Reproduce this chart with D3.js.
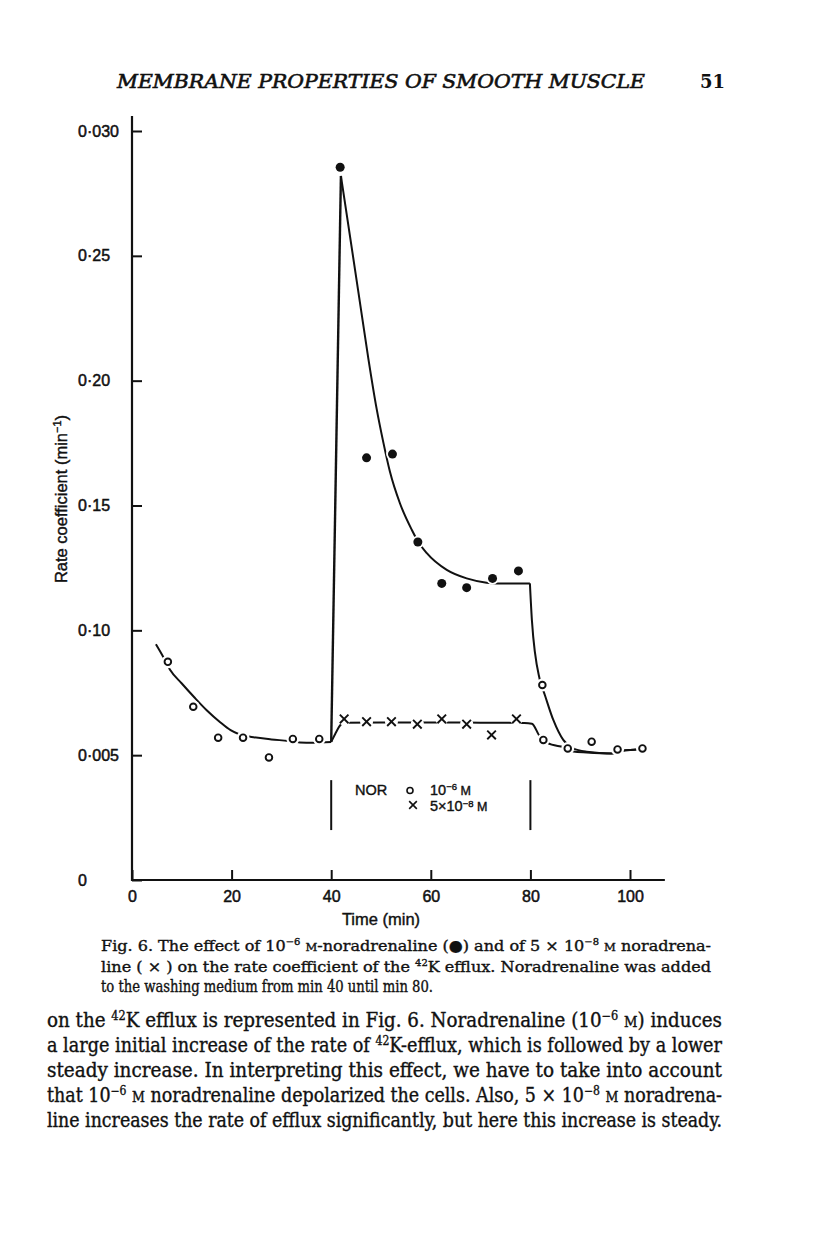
<!DOCTYPE html>
<html><head><meta charset="utf-8">
<script src="https://cdn.jsdelivr.net/npm/d3@7/dist/d3.min.js"></script>
<style>body{margin:0;background:#fff}svg{display:block}</style>
</head><body>
<svg id="c" width="816" height="1248"></svg>
<script>
// ---- axis ticks ----
const xTicks = [0, 20, 40, 60, 80, 100];
const xTickLabels = ["0", "20", "40", "60", "80", "100"];
const yTicks = [0, 0.05, 0.10, 0.15, 0.20, 0.25, 0.30];
const yTickLabels = ["0", "0·005", "0·10", "0·15", "0·20", "0·25", "0·030"];
const xAxisMax = 107, yAxisMax = 0.306;

// ---- measured points [time (min), rate coefficient] ----
const controlPre = [[7.2,0.0874],[12.3,0.0694],[17.3,0.0570],[22.3,0.0570],[27.5,0.0491],[32.3,0.0565],[37.6,0.0565]];
const controlPost = [[82.4,0.0781],[82.6,0.0561],[87.5,0.0527],[92.3,0.0554],[97.5,0.0523],[102.5,0.0527]];
const nor1e6 = [[41.8,0.2855],[47.1,0.1691],[52.3,0.1706],[57.4,0.1354],[62.2,0.1188],[67.2,0.1171],[72.4,0.1208],[77.6,0.1238]];
const nor5e8 = [[42.6,0.0645],[47.1,0.0634],[52.1,0.0634],[57.3,0.0624],[62.2,0.0645],[67.2,0.0624],[72.2,0.0581],[77.2,0.0645]];

// ---- hand-drawn fitted curves ----
const fitPre = [[4.8,0.0944],[6.2,0.0896],[7.6,0.0843],[10.0,0.0787],[12.5,0.0732],[15.0,0.0680],[17.7,0.0632],[19.8,0.0600],[21.5,0.0584],[24.0,0.0573],[28.0,0.0563],[31.4,0.0557],[33.7,0.0551],[36.3,0.0550],[40.0,0.0553]];
const fitHighRise = [[40.0,0.0553],[41.95,0.2820]];
const fitHighDecay = [[41.95,0.2820],[45.4,0.2363],[47.4,0.2096],[49.1,0.1890],[50.5,0.1750],[51.8,0.1635],[53.8,0.1509],[56.2,0.1402],[57.4,0.1357],[59.2,0.1309],[63.2,0.1242],[67.2,0.1208],[71.2,0.1191],[73.2,0.1188],[79.9,0.1188]];
const fitHighFall = [[79.9,0.1188],[80.3,0.1041],[81.9,0.0801],[82.9,0.0741],[84.6,0.0641],[86.6,0.0561],[88.6,0.0527],[91.3,0.0514],[96.3,0.0507],[98.5,0.0518],[101.3,0.0523],[102.5,0.0527]];
const fitLow = [[40.0,0.0553],[40.8,0.0585],[41.9,0.0622],[42.6,0.0630],[50,0.0631],[60,0.0631],[70,0.0630],[78.8,0.0629],[80.3,0.0626],[81.9,0.0575],[82.6,0.0561],[83.4,0.0549],[86.6,0.0532],[87.5,0.0527],[88.6,0.0515],[91.3,0.0511],[96.3,0.0507],[98.5,0.0518],[101.3,0.0523],[102.5,0.0527]];

// ---- texts ----
const headerText = "MEMBRANE PROPERTIES OF SMOOTH MUSCLE";
const pageNumber = "51";
const captionLines = [
  ["Fig. 6. The effect of 10", {s:"−6"}, " ", {m:"M"}, "-noradrenaline (●) and of 5 × 10", {s:"−8"}, " ", {m:"M"}, " noradrena-"],
  ["line ( × ) on the rate coefficient of the ", {s:"42"}, "K efflux. Noradrenaline was added"],
  ["to the washing medium from min 40 until min 80."]
];
const bodyLines = [
  ["on the ", {s:"42"}, "K efflux is represented in Fig. 6. Noradrenaline (10", {s:"−6"}, " ", {m:"M"}, ") induces"],
  ["a large initial increase of the rate of ", {s:"42"}, "K-efflux, which is followed by a lower"],
  ["steady increase. In interpreting this effect, we have to take into account"],
  ["that 10", {s:"−6"}, " ", {m:"M"}, " noradrenaline depolarized the cells. Also, 5 × 10", {s:"−8"}, " ", {m:"M"}, " noradrena-"],
  ["line increases the rate of efflux significantly, but here this increase is steady."]
];

const INK = "#111";
const svg = d3.select("#c");
const x = d3.scaleLinear().domain([0, 100]).range([132, 630]);
const y = d3.scaleLinear().domain([0, 0.30]).range([880, 131]);

// header
svg.append("text").attr("x", 117).attr("y", 88)
  .attr("font-family", "DejaVu Serif").attr("font-style", "italic").attr("font-size", 19)
  .attr("stroke", INK).attr("stroke-width", 0.6)
  .attr("textLength", 528).attr("lengthAdjust", "spacingAndGlyphs")
  .attr("fill", INK).text(headerText);
svg.append("text").attr("x", 700).attr("y", 88)
  .attr("font-family", "DejaVu Serif").attr("font-weight", "bold").attr("font-size", 18)
  .attr("fill", INK).text(pageNumber);

// axes
const axisFont = "Liberation Sans, Arial, sans-serif";
const gy = svg.append("g").attr("transform", `translate(${x(0)},0)`)
  .call(d3.axisLeft(y).tickValues(yTicks).tickFormat((d, i) => yTickLabels[i]).tickSize(-10).tickPadding(0));
gy.select(".domain").remove();
gy.selectAll(".tick line").attr("stroke", INK).attr("stroke-width", 2);
gy.selectAll(".tick text").attr("text-anchor", "start").attr("x", 78 - x(0))
  .attr("font-family", axisFont).attr("font-size", 16).attr("fill", INK)
  .attr("stroke", INK).attr("stroke-width", 0.5);

const gx = svg.append("g").attr("transform", `translate(0,${y(0)})`)
  .call(d3.axisBottom(x).tickValues(xTicks).tickFormat((d, i) => xTickLabels[i]).tickSize(-10).tickPadding(11));
gx.select(".domain").remove();
gx.selectAll(".tick line").attr("stroke", INK).attr("stroke-width", 2);
gx.selectAll(".tick text").attr("font-family", axisFont).attr("font-size", 16).attr("fill", INK)
  .attr("stroke", INK).attr("stroke-width", 0.5);

svg.append("line").attr("x1", x(0)).attr("x2", x(xAxisMax)).attr("y1", y(0)).attr("y2", y(0))
  .attr("stroke", INK).attr("stroke-width", 2.2);
svg.append("line").attr("x1", x(0)).attr("x2", x(0)).attr("y1", y(0) + 1).attr("y2", y(yAxisMax))
  .attr("stroke", INK).attr("stroke-width", 2.2);

// axis titles
const yt = svg.append("text").attr("transform", "translate(67,499) rotate(-90)")
  .attr("text-anchor", "middle").attr("font-family", axisFont).attr("font-size", 16.5).attr("fill", INK)
  .attr("stroke", INK).attr("stroke-width", 0.4);
yt.append("tspan").text("Rate coefficient (min");
yt.append("tspan").attr("dy", -6).attr("font-size", 11).text("−1");
yt.append("tspan").attr("dy", 6).text(")");
svg.append("text").attr("x", 381).attr("y", 925).attr("text-anchor", "middle")
  .attr("font-family", axisFont).attr("font-size", 16.5).attr("fill", INK)
  .attr("stroke", INK).attr("stroke-width", 0.4).text("Time (min)");

// fitted curves
const lineMono = d3.line().x(d => x(d[0])).y(d => y(d[1])).curve(d3.curveMonotoneX);
const lineLin = d3.line().x(d => x(d[0])).y(d => y(d[1]));
const curves = svg.append("g").attr("fill", "none").attr("stroke", INK).attr("stroke-width", 2).attr("stroke-linejoin", "round");
curves.append("path").attr("d", lineMono(fitPre));
curves.append("path").attr("d", lineLin(fitHighRise)).attr("stroke-width", 2.4);
curves.append("path").attr("d", lineMono(fitHighDecay));
curves.append("path").attr("d", lineMono(fitHighFall));
curves.append("path").attr("d", lineMono(fitLow));

// white halos (gaps in the lines around markers)
const halos = svg.append("g").attr("fill", "#fff");
[...controlPre, ...controlPost, ...nor5e8].forEach(d =>
  halos.append("circle").attr("cx", x(d[0])).attr("cy", y(d[1])).attr("r", 6.5));
nor1e6.forEach(d => halos.append("circle").attr("cx", x(d[0])).attr("cy", y(d[1])).attr("r", 6.3));

// markers
const mk = svg.append("g");
[...controlPre, ...controlPost].forEach(d =>
  mk.append("circle").attr("cx", x(d[0])).attr("cy", y(d[1])).attr("r", 3.3)
    .attr("fill", "#fff").attr("stroke", INK).attr("stroke-width", 1.9));
nor1e6.forEach(d =>
  mk.append("circle").attr("cx", x(d[0])).attr("cy", y(d[1])).attr("r", 4.5).attr("fill", INK));
const crossPath = d3.symbol().type(d3.symbolTimes).size(50);
nor5e8.forEach(d =>
  mk.append("path").attr("d", crossPath()).attr("transform", `translate(${x(d[0])},${y(d[1])})`)
    .attr("fill", "none").attr("stroke", INK).attr("stroke-width", 1.9));

// legend / NOR bracket
svg.append("line").attr("x1", x(40)).attr("x2", x(40)).attr("y1", y(0.040)).attr("y2", y(0.020))
  .attr("stroke", INK).attr("stroke-width", 2);
svg.append("line").attr("x1", x(80)).attr("x2", x(80)).attr("y1", y(0.040)).attr("y2", y(0.020))
  .attr("stroke", INK).attr("stroke-width", 2);
const lg = svg.append("g").attr("font-family", axisFont).attr("font-size", 14.5).attr("fill", INK)
  .attr("stroke", INK).attr("stroke-width", 0.4);
lg.append("text").attr("x", 355).attr("y", 795).text("NOR");
lg.append("circle").attr("cx", 410).attr("cy", 790.5).attr("r", 3).attr("fill", "none").attr("stroke", INK).attr("stroke-width", 1.6);
lg.append("path").attr("d", d3.symbol().type(d3.symbolTimes).size(40)()).attr("transform", "translate(413,805)")
  .attr("fill", "none").attr("stroke", INK).attr("stroke-width", 1.6);
const l1 = lg.append("text").attr("x", 430).attr("y", 795);
l1.append("tspan").text("10");
l1.append("tspan").attr("dy", -5).attr("font-size", 9.5).text("−6");
l1.append("tspan").attr("dy", 5).attr("font-size", 12.5).text(" M");
const l2 = lg.append("text").attr("x", 430).attr("y", 811);
l2.append("tspan").text("5×10");
l2.append("tspan").attr("dy", -4).attr("font-size", 9.5).text("−8");
l2.append("tspan").attr("dy", 4).attr("font-size", 12.5).text(" M");

// rich text helper
function richText(parent, xPos, yPos, parts, size, width) {
  const t = parent.append("text").attr("x", xPos).attr("y", yPos)
    .attr("font-family", "DejaVu Serif").attr("font-stretch", "condensed")
    .attr("font-size", size).attr("fill", INK).attr("stroke", INK).attr("stroke-width", 0.35);
  let shift = 0;
  parts.forEach(p => {
    const ts = t.append("tspan");
    if (typeof p === "string") {
      ts.text(p);
      if (shift) { ts.attr("dy", shift); shift = 0; }
    } else if (p.s) {
      const up = Math.round(size * 0.38);
      ts.attr("dy", -up + shift).attr("font-size", size * 0.62).text(p.s);
      shift = up;
    } else if (p.m) {
      ts.attr("font-size", size * 0.72).text(p.m);
      if (shift) { ts.attr("dy", shift); shift = 0; }
    }
  });
  if (width) t.attr("textLength", width).attr("lengthAdjust", "spacingAndGlyphs");
  return t;
}
const cap = svg.append("g");
richText(cap, 101, 951, captionLines[0], 15.5, 610);
richText(cap, 101, 972, captionLines[1], 15.5, 610);
richText(cap, 101, 992, captionLines[2], 16, 332);
const body = svg.append("g");
bodyLines.forEach((ln, i) => richText(body, 47, 1027 + i * 25, ln, 19.5, 675));
</script>
</body></html>
